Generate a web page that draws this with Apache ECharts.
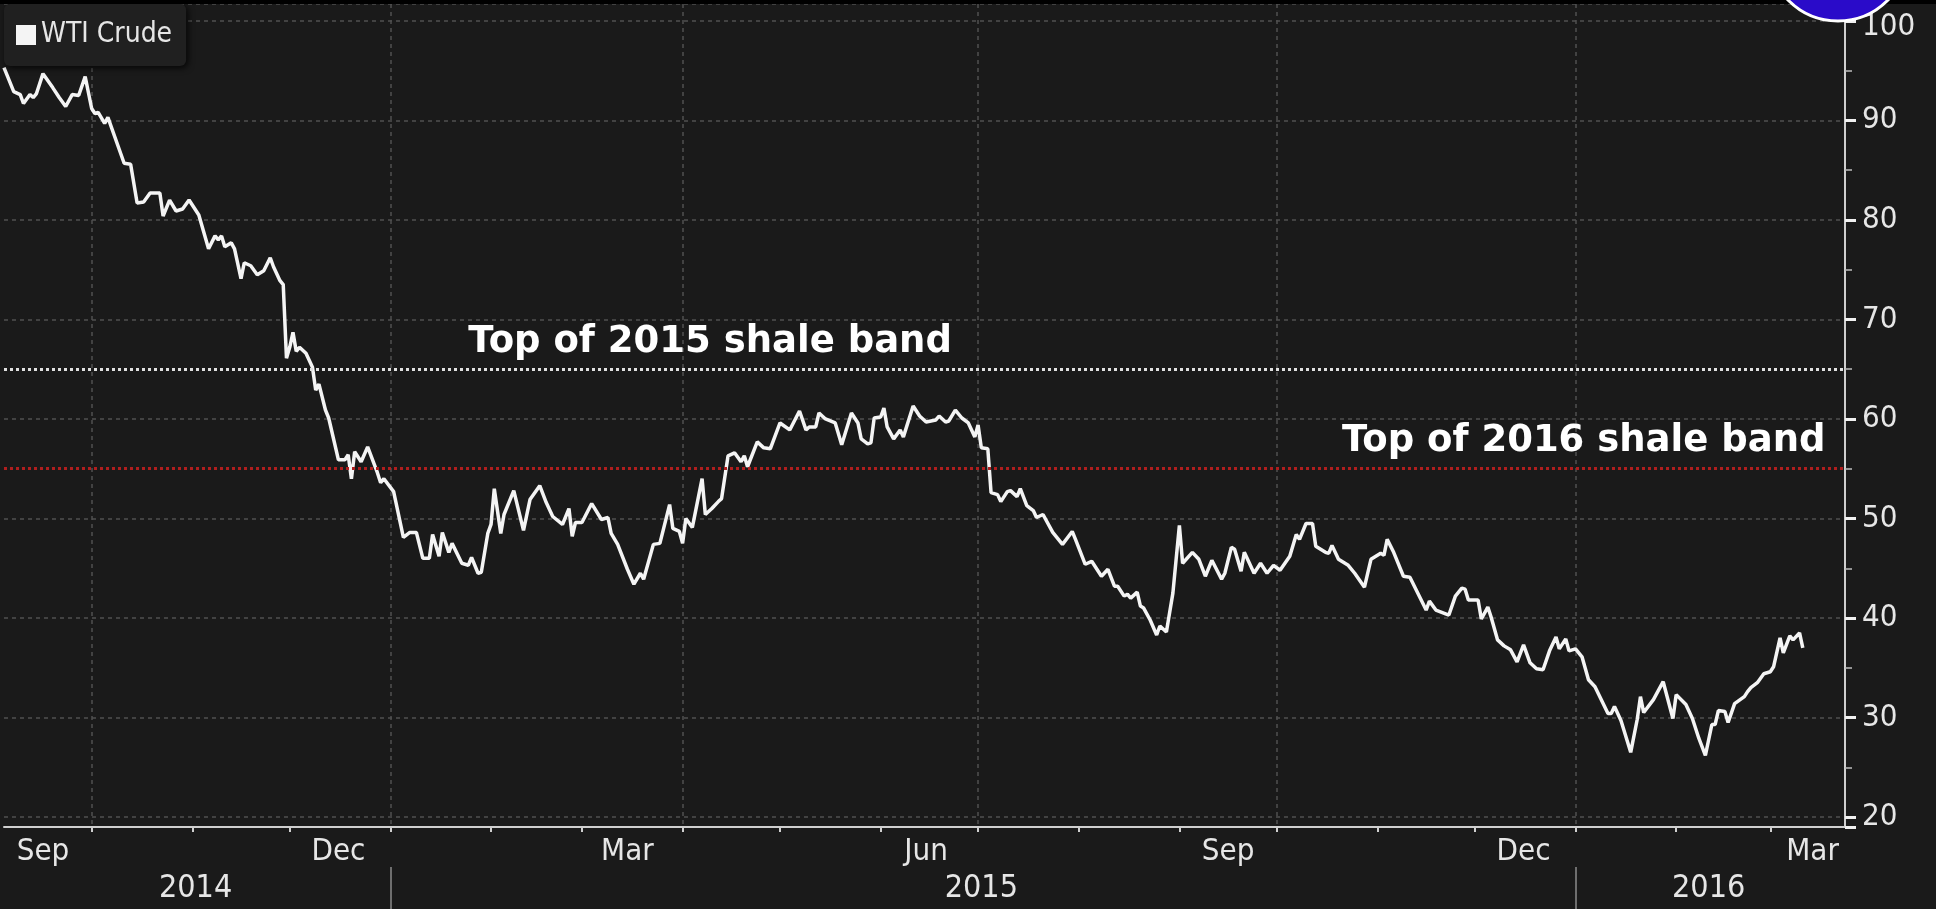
<!DOCTYPE html>
<html lang="en">
<head>
    <meta charset="UTF-8">
    <title>WTI Crude</title>
    <script src="https://cdn.jsdelivr.net/npm/echarts@6/dist/echarts.min.js"></script>
    <style>
        html, body { margin: 0; padding: 0; background: #1a1a1a; }
        #main { width: 1936px; height: 909px; }
    </style>
</head>
<body>
    <div id="main"></div>
    <script type="text/javascript">
        // WTI crude, Sep 2014 - Mar 2016
        var dates = [
            '2014-09-04','2014-09-07','2014-09-09','2014-09-10','2014-09-12','2014-09-13','2014-09-14','2014-09-16',
            '2014-09-19','2014-09-21','2014-09-23','2014-09-25','2014-09-27','2014-09-29','2014-10-01','2014-10-02',
            '2014-10-03','2014-10-05','2014-10-06','2014-10-11','2014-10-13','2014-10-15','2014-10-17','2014-10-19',
            '2014-10-22','2014-10-23','2014-10-25','2014-10-27','2014-10-29','2014-10-31','2014-11-03','2014-11-06',
            '2014-11-08','2014-11-09','2014-11-10','2014-11-11','2014-11-13','2014-11-14','2014-11-16','2014-11-17',
            '2014-11-19','2014-11-21','2014-11-23','2014-11-25','2014-11-26','2014-11-28','2014-11-29','2014-11-30',
            '2014-12-01','2014-12-02','2014-12-03','2014-12-04','2014-12-06','2014-12-08','2014-12-09','2014-12-10',
            '2014-12-12','2014-12-13','2014-12-16','2014-12-18','2014-12-19','2014-12-20','2014-12-21','2014-12-23',
            '2014-12-25','2014-12-28','2014-12-29','2014-12-30',
            '2015-01-02','2015-01-05','2015-01-07','2015-01-09','2015-01-11','2015-01-13','2015-01-14','2015-01-16',
            '2015-01-17','2015-01-19','2015-01-20','2015-01-23','2015-01-25','2015-01-26','2015-01-28','2015-01-29',
            '2015-01-31','2015-02-01','2015-02-02','2015-02-04','2015-02-05','2015-02-08','2015-02-11','2015-02-13',
            '2015-02-16','2015-02-18','2015-02-20','2015-02-23','2015-02-25','2015-02-26','2015-02-27','2015-03-01',
            '2015-03-04','2015-03-07','2015-03-09','2015-03-10','2015-03-12','2015-03-15','2015-03-17','2015-03-19',
            '2015-03-20','2015-03-23','2015-03-25','2015-03-28','2015-03-29','2015-03-31','2015-04-01','2015-04-02',
            '2015-04-04','2015-04-07','2015-04-08','2015-04-10','2015-04-12','2015-04-13','2015-04-15','2015-04-17',
            '2015-04-19','2015-04-20','2015-04-21','2015-04-24','2015-04-26','2015-04-28','2015-05-01','2015-05-04',
            '2015-05-07','2015-05-09','2015-05-10','2015-05-12','2015-05-13','2015-05-15','2015-05-18','2015-05-20',
            '2015-05-23','2015-05-25','2015-05-26','2015-05-28','2015-05-29','2015-05-30','2015-06-01','2015-06-02',
            '2015-06-03','2015-06-05','2015-06-07','2015-06-08','2015-06-11','2015-06-13','2015-06-15','2015-06-18',
            '2015-06-19','2015-06-21','2015-06-22','2015-06-24','2015-06-26','2015-06-28','2015-06-30','2015-07-01',
            '2015-07-02','2015-07-04','2015-07-05','2015-07-07','2015-07-08','2015-07-10','2015-07-11','2015-07-13',
            '2015-07-14','2015-07-16','2015-07-18','2015-07-19','2015-07-21','2015-07-24','2015-07-27','2015-07-30',
            '2015-07-31','2015-08-03','2015-08-05','2015-08-08','2015-08-10','2015-08-12','2015-08-13','2015-08-15',
            '2015-08-16','2015-08-17','2015-08-19','2015-08-20','2015-08-21','2015-08-23','2015-08-25','2015-08-26',
            '2015-08-28','2015-08-30','2015-09-01','2015-09-02','2015-09-05','2015-09-07','2015-09-09','2015-09-11',
            '2015-09-14','2015-09-15','2015-09-17','2015-09-18','2015-09-20','2015-09-21','2015-09-24','2015-09-26',
            '2015-09-28','2015-09-30','2015-10-02','2015-10-05','2015-10-07','2015-10-08','2015-10-10','2015-10-12',
            '2015-10-13','2015-10-16','2015-10-17','2015-10-18','2015-10-20','2015-10-23','2015-10-25','2015-10-28',
            '2015-10-30','2015-11-02','2015-11-03','2015-11-04','2015-11-06','2015-11-09','2015-11-11','2015-11-16',
            '2015-11-17','2015-11-19','2015-11-23','2015-11-25','2015-11-27','2015-11-28','2015-11-29','2015-12-02',
            '2015-12-03','2015-12-05','2015-12-06','2015-12-08','2015-12-10','2015-12-12','2015-12-14','2015-12-16',
            '2015-12-18','2015-12-20','2015-12-22','2015-12-24','2015-12-26','2015-12-27','2015-12-29','2015-12-30',
            '2016-01-01','2016-01-03','2016-01-05','2016-01-07','2016-01-11','2016-01-12','2016-01-13','2016-01-15',
            '2016-01-18','2016-01-20','2016-01-21','2016-01-22','2016-01-25','2016-01-28','2016-01-31','2016-02-01',
            '2016-02-04','2016-02-06','2016-02-08','2016-02-10','2016-02-12','2016-02-13','2016-02-14','2016-02-16',
            '2016-02-17','2016-02-19','2016-02-22','2016-02-23','2016-02-24','2016-02-26','2016-02-28','2016-03-01',
            '2016-03-02','2016-03-04','2016-03-05','2016-03-07','2016-03-08','2016-03-10','2016-03-11'
        ];
        var prices = [
            95.3, 92.9, 92.6, 91.7, 92.6, 92.3, 92.7, 94.7,
            93.3, 92.3, 91.4, 92.6, 92.5, 94.4, 91.2, 90.7,
            90.8, 89.7, 90.3, 85.7, 85.6, 81.7, 81.8, 82.7,
            82.7, 80.4, 82.0, 80.9, 81.1, 82.0, 80.5, 77.1,
            78.4, 78.0, 78.4, 77.3, 77.7, 77.1, 74.1, 75.7,
            75.4, 74.5, 74.9, 76.2, 75.3, 73.9, 73.5, 66.1,
            67.2, 68.7, 66.8, 67.2, 66.6, 65.2, 62.9, 63.5,
            60.9, 60.1, 55.9, 55.9, 56.4, 54.0, 56.7, 55.7,
            57.2, 54.6, 53.6, 54.0,
            52.7, 48.1, 48.6, 48.6, 46.0, 46.0, 48.4, 46.2,
            48.6, 46.6, 47.5, 45.5, 45.3, 46.1, 44.5, 44.6,
            48.5, 49.4, 53.0, 48.5, 50.4, 52.8, 48.8, 51.9,
            53.3, 51.6, 50.2, 49.4, 51.0, 48.2, 49.6, 49.6,
            51.5, 49.9, 50.1, 48.5, 47.4, 44.9, 43.4, 44.5,
            43.9, 47.4, 47.5, 51.4, 49.0, 48.7, 47.5, 50.0,
            49.1, 54.0, 50.4, 51.0, 51.7, 52.0, 56.3, 56.6,
            55.7, 56.3, 55.2, 57.7, 57.1, 57.0, 59.6, 58.9,
            60.8, 58.9, 59.2, 59.2, 60.6, 60.0, 59.6, 57.4,
            60.6, 59.6, 58.0, 57.5, 57.6, 60.1, 60.2, 61.1,
            59.2, 58.0, 58.9, 58.2, 61.3, 60.3, 59.7, 59.9,
            60.3, 59.7, 59.8, 60.9, 60.1, 59.6, 58.2, 59.4,
            57.1, 57.0, 52.6, 52.4, 51.7, 52.7, 52.8, 52.2,
            53.0, 51.3, 50.8, 50.1, 50.4, 48.6, 47.4, 48.7,
            47.9, 45.4, 45.7, 44.2, 44.9, 43.2, 43.2, 42.2,
            42.4, 42.0, 42.6, 41.2, 41.0, 39.8, 38.3, 39.2,
            38.6, 42.5, 49.3, 45.5, 46.6, 45.9, 44.2, 45.8,
            43.9, 44.5, 47.1, 46.9, 44.7, 46.6, 44.5, 45.5,
            44.5, 45.3, 44.8, 46.2, 48.4, 47.9, 49.5, 49.5,
            47.2, 46.6, 46.5, 47.3, 45.9, 45.3, 44.5, 43.1,
            45.9, 46.5, 46.3, 47.9, 46.6, 44.2, 44.1, 40.8,
            41.7, 40.8, 40.3, 42.2, 43.0, 42.9, 41.8, 41.8,
            39.9, 41.1, 40.1, 37.8, 37.2, 36.8, 35.6, 37.3,
            35.5, 34.9, 34.8, 36.7, 38.1, 36.9, 37.9, 36.7,
            36.9, 36.1, 33.8, 33.1, 30.4, 30.4, 31.1, 29.7,
            26.5, 29.8, 32.1, 30.5, 31.8, 33.6, 29.9, 32.3,
            31.3, 29.9, 27.9, 26.2, 29.3, 29.3, 30.7, 30.6,
            29.5, 31.4, 32.1, 32.6, 33.0, 33.5, 34.4, 34.6,
            35.1, 38.0, 36.5, 38.2, 37.8, 38.5, 37.0
        ];

        // shale band tops
        var top2015 = 65;
        var top2016 = 55;
        var top2015Label = 'Top of 2015 shale band';
        var top2016Label = 'Top of 2016 shale band';
        var top2015LabelAt = '2015-01-25';
        var top2016LabelAt = '2016-03-18';

        // axis ticks / labels
        var monthNames = ['Jan','Feb','Mar','Apr','May','Jun','Jul','Aug','Sep','Oct','Nov','Dec'];
        var monthTicks = [
            '2014-10-01','2014-11-01','2014-12-01','2015-01-01','2015-02-01','2015-03-01','2015-04-01',
            '2015-05-01','2015-06-01','2015-07-01','2015-08-01','2015-09-01','2015-10-01','2015-11-01',
            '2015-12-01','2016-01-01','2016-02-01','2016-03-01'
        ];
        var monthLabelDates = ['2014-09-16','2014-12-16','2015-03-15','2015-06-15','2015-09-16','2015-12-16','2016-03-14'];
        var quarterLines = ['2014-10-01','2015-01-01','2015-04-01','2015-07-01','2015-10-01','2016-01-01'];
        var yearBreaks = ['2015-01-01','2016-01-01'];
        var yearLabelDates = ['2014-11-02','2015-07-02','2016-02-11'];
        var xStart = '2014-09-04';
        var xEnd = '2016-03-24';

        function ts(s) { return new Date(s + 'T00:00:00').getTime(); }

        var FONT = '"DejaVu Sans Condensed", "DejaVu Sans", sans-serif';
        var GRID_COLOR = '#505050';

        var myChart = echarts.init(document.getElementById('main'));

        // dates are plotted as timestamps on a plain value axis so that
        // ticks, labels and grid lines can be placed at given dates
        var dateAxis = {
            type: 'value',
            gridIndex: 0,
            min: ts(xStart),
            max: ts(xEnd),
            scale: true
        };

        var option = {
            backgroundColor: '#1a1a1a',
            animation: false,
            grid: { left: 4, right: 91, top: 4, bottom: 82 },
            legend: {
                left: 4,
                top: 4,
                padding: [17, 14, 17, 12],
                icon: 'rect',
                itemWidth: 20,
                itemHeight: 20,
                itemGap: 6,
                backgroundColor: '#202020',
                borderRadius: 6,
                shadowBlur: 6,
                shadowColor: 'rgba(0,0,0,0.8)',
                shadowOffsetX: 2,
                shadowOffsetY: 2,
                textStyle: { color: '#e6e6e6', fontSize: 28, fontFamily: FONT },
                data: ['WTI Crude']
            },
            xAxis: [
                Object.assign({}, dateAxis, {
                    position: 'bottom',
                    axisLine: { lineStyle: { color: '#cfcfcf', width: 2 } },
                    axisTick: {
                        show: true,
                        length: 5,
                        customValues: monthTicks.map(ts),
                        lineStyle: { color: '#cfcfcf', width: 2 }
                    },
                    axisLabel: {
                        customValues: monthLabelDates.map(ts),
                        color: '#e6e6e6',
                        fontSize: 31,
                        fontFamily: FONT,
                        margin: 9,
                        formatter: function (v) { return monthNames[new Date(v).getMonth()]; }
                    },
                    splitLine: { show: false }
                }),
                Object.assign({}, dateAxis, {
                    position: 'bottom',
                    axisLine: { show: false },
                    axisTick: { show: false, customValues: quarterLines.map(ts) },
                    axisLabel: { show: false },
                    splitLine: { show: true, lineStyle: { color: GRID_COLOR, type: [4, 4], width: 1.5 } }
                }),
                Object.assign({}, dateAxis, {
                    position: 'bottom',
                    offset: 40,
                    axisLine: { show: false },
                    axisTick: {
                        show: true,
                        length: 44,
                        customValues: yearBreaks.map(ts),
                        lineStyle: { color: '#8a8a8a', width: 1.5 }
                    },
                    axisLabel: {
                        customValues: yearLabelDates.map(ts),
                        color: '#e6e6e6',
                        fontSize: 32,
                        fontFamily: FONT,
                        margin: 6,
                        formatter: function (v) { return String(new Date(v).getFullYear()); }
                    },
                    splitLine: { show: false }
                })
            ],
            yAxis: {
                type: 'value',
                position: 'right',
                min: 19,
                max: 101.7,
                splitNumber: 8,
                axisLine: { show: true, lineStyle: { color: '#cfcfcf', width: 2 } },
                axisTick: { show: true, length: 11, lineStyle: { color: '#f0f0f0', width: 3 } },
                minorTick: { show: true, splitNumber: 2, length: 7, lineStyle: { color: '#bdbdbd', width: 1.5 } },
                axisLabel: {
                    color: '#e6e6e6',
                    fontSize: 31,
                    fontFamily: FONT,
                    margin: 17,
                    showMinLabel: false,
                    showMaxLabel: false,
                    formatter: function (v) { return v === 100 ? '{top|100}' : String(v); },
                    rich: { top: { fontSize: 31, fontFamily: FONT, color: '#e6e6e6', padding: [12, 0, 0, 0] } }
                },
                splitLine: { show: true, lineStyle: { color: GRID_COLOR, type: [4, 4], width: 1.5 } }
            },
            series: [{
                name: 'WTI Crude',
                type: 'line',
                xAxisIndex: 0,
                symbol: 'none',
                color: '#f4f4f4',
                lineStyle: { color: '#f4f4f4', width: 3.5 },
                data: dates.map(function (d, i) { return [ts(d), prices[i]]; }),
                markLine: {
                    silent: true,
                    symbol: 'none',
                    label: { show: false },
                    data: [
                        { yAxis: top2015, lineStyle: { color: '#e0e0e0', type: [3, 3], width: 3 } },
                        { yAxis: top2016, lineStyle: { color: '#b01e1e', type: [3, 3], width: 3 } }
                    ]
                },
                markPoint: {
                    silent: true,
                    symbolSize: 0,
                    label: {
                        show: true,
                        position: 'inside',
                        verticalAlign: 'middle',
                        color: '#ffffff',
                        fontSize: 37,
                        fontWeight: 'bold',
                        fontFamily: '"DejaVu Sans", sans-serif',
                        offset: [0, -27],
                        formatter: function (p) { return p.name; }
                    },
                    data: [
                        { name: top2015Label, coord: [ts(top2015LabelAt), top2015], label: { align: 'left' } },
                        { name: top2016Label, coord: [ts(top2016LabelAt), top2016], label: { align: 'right' } }
                    ]
                }
            }],
            graphic: [
                { type: 'rect', z: 100, shape: { x: 0, y: 0, width: 1936, height: 4 }, style: { fill: '#000' } },
                { type: 'circle', z: 101, shape: { cx: 1838, cy: -49, r: 70 }, style: { fill: '#2a0bc9', stroke: '#ffffff', lineWidth: 3 } }
            ]
        };

        myChart.setOption(option);
    </script>
</body>
</html>
